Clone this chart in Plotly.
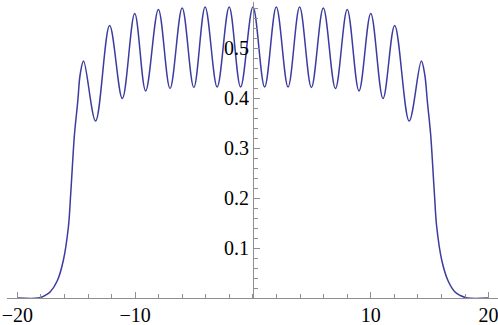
import plotly.graph_objects as go

# Werte (Maxima, Minima, Flanken)
x_vals = [-20.0, -18.2, -17.65, -17.22, -16.60, -16.10, -15.67, -15.47, -15.30, -15.15,
          -14.87, -14.67, -14.38, -13.36, -12.17, -11.09, -10.04, -9.11, -8.03, -7.04,
          -6.01, -5.02, -4.06, -3.04, -2.02, -1.05, 0.0, 0.99, 1.98, 2.98,
          3.96, 4.96, 5.97, 7.0, 8.0, 9.0, 10.0, 11.04, 12.03, 13.26,
          14.29, 14.58, 14.80, 15.08, 15.23, 15.40, 15.60, 16.03, 16.55, 17.15,
          17.60, 18.2, 20.0]
y_vals = [0.0, 0.0, 0.005, 0.012, 0.035, 0.075, 0.142, 0.209, 0.275, 0.328,
          0.394, 0.447, 0.474, 0.354, 0.545, 0.399, 0.569, 0.414, 0.577, 0.419,
          0.580, 0.421, 0.582, 0.422, 0.582, 0.422, 0.582, 0.422, 0.582, 0.422,
          0.582, 0.421, 0.580, 0.419, 0.577, 0.414, 0.569, 0.399, 0.545, 0.354,
          0.474, 0.447, 0.394, 0.328, 0.275, 0.209, 0.142, 0.075, 0.035, 0.012,
          0.005, 0.0, 0.0]

x_ticks = [-20, -10, 10, 20]
x_labels = ["\u221220", "\u221210", "10", "20"]
y_ticks = [0.1, 0.2, 0.3, 0.4, 0.5]
y_labels = ["0.1", "0.2", "0.3", "0.4", "0.5"]

axis_grau = "#8f8f8f"
schrift = dict(family="Liberation Serif", size=20, color="black")

fig = go.Figure()
fig.add_trace(go.Scatter(x=x_vals, y=y_vals, mode="lines", hoverinfo="skip",
                         line=dict(color="#3b3ba0", width=1.5, shape="spline", smoothing=1)))

fig.update_layout(
    width=498, height=325,
    margin=dict(l=7, r=0, t=2, b=27, autoexpand=False),
    paper_bgcolor="white", plot_bgcolor="white",
    showlegend=False,
    xaxis=dict(range=[-20.88, 20.8], showgrid=False, zeroline=False, automargin=False,
               showline=True, linecolor=axis_grau, linewidth=1,
               tickmode="array", tickvals=x_ticks, ticktext=x_labels,
               ticks="inside", ticklen=6, tickcolor=axis_grau, tickfont=schrift,
               ticklabelstandoff=-1, ticklabeloverflow="allow",
               minor=dict(tickmode="linear", tick0=0, dtick=2, ticks="inside",
                          ticklen=4, tickcolor=axis_grau)),
    yaxis=dict(range=[0, 0.592], showgrid=False, zeroline=False, automargin=False,
               anchor="free", position=0.501,
               showline=True, linecolor=axis_grau, linewidth=1,
               tickmode="array", tickvals=y_ticks, ticktext=y_labels,
               ticks="inside", ticklen=6, tickcolor=axis_grau, tickfont=schrift,
               ticklabeloverflow="allow",
               minor=dict(tickmode="linear", tick0=0, dtick=0.02, ticks="inside",
                          ticklen=4, tickcolor=axis_grau)),
)

# Standard-Rand des Browsers entfernen, damit die Grafik bei (0,0) beginnt
fig.write_html("out.html", config={"displayModeBar": False},
               post_script="document.body.style.margin = '0';")
